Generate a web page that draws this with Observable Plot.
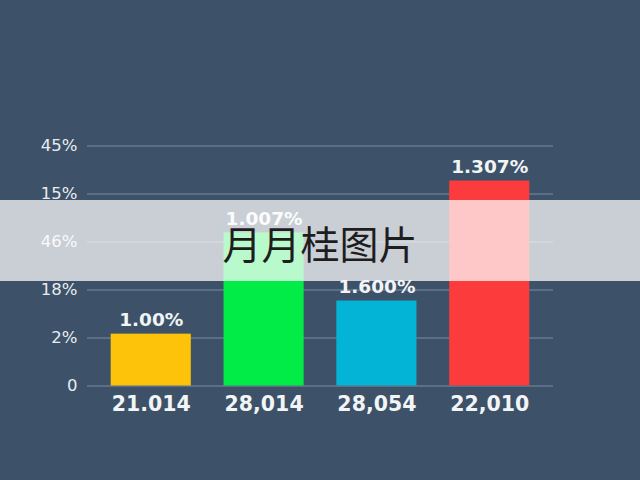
<!DOCTYPE html>
<html>
<head>
<meta charset="utf-8">
<script src="https://cdn.jsdelivr.net/npm/d3@7"></script>
<script src="https://cdn.jsdelivr.net/npm/@observablehq/plot@0.6"></script>
<style>
  html, body { margin: 0; padding: 0; background: #3d5268; }
  #wrap { position: relative; width: 640px; height: 480px; overflow: hidden; background: #3d5268; }
  #banner {
    position: absolute; left: 0; top: 200px; width: 640px; height: 81px;
    background: rgba(255,255,255,0.72);
    display: flex; align-items: center; justify-content: center;
    font-family: "Noto Sans CJK SC", sans-serif; font-size: 39px; color: #1e1e1e;
    line-height: 1;
  }
  #banner span { position: relative; top: 2px; }
</style>
</head>
<body>
<div id="wrap">
  <div id="chart"></div>
  <div id="banner"><span>月月桂图片</span></div>
</div>
<script>
const categories = ["21.014", "28,014", "28,054", "22,010"];
const values = [1.08, 3.19, 1.77, 4.27];
const valueLabels = ["1.00%", "1.007%", "1.600%", "1.307%"];
const barColors = ["#fdc30a", "#02ec47", "#04b4d6", "#fc3b3d"];
const yTicks = [0, 1, 2, 3, 4, 5];
const yTickLabels = ["0", "2%", "18%", "46%", "15%", "45%"];

const data = categories.map((c, i) => ({cat: c, value: values[i], label: valueLabels[i]}));

const chart = Plot.plot({
  width: 640,
  height: 480,
  marginLeft: 87,
  marginRight: 87,
  marginTop: 145.5,
  marginBottom: 94.5,
  style: {background: "transparent", color: "#e8ecf0", fontFamily: "'DejaVu Sans', sans-serif"},
  x: {domain: categories, paddingInner: 0.29, paddingOuter: 0.21, round: false, axis: null, label: null},
  y: {domain: [0, 5], axis: null, label: null},
  color: {domain: categories, range: barColors},
  marks: [
    Plot.ruleY(yTicks, {stroke: "#7b8da1", strokeWidth: 1}),
    Plot.barY(data, {x: "cat", y: "value", fill: "cat"}),
    Plot.axisY(yTicks, {
      tickFormat: d => yTickLabels[yTicks.indexOf(d)],
      tickSize: 0, tickPadding: 10, fontSize: 16.5, fill: "#e8ecf0", label: null
    }),
    Plot.text(data, {
      x: "cat", y: "value", text: "label", lineAnchor: "bottom", dy: -8,
      fontSize: 18.5, fontWeight: "bold", fill: "#f2f4f6"
    }),
    Plot.axisX(categories, {
      tickSize: 0, tickPadding: 10, fontSize: 20.5, fontWeight: "bold", fill: "#f2f4f6", label: null
    })
  ]
});
document.getElementById("chart").appendChild(chart);
</script>
</body>
</html>
